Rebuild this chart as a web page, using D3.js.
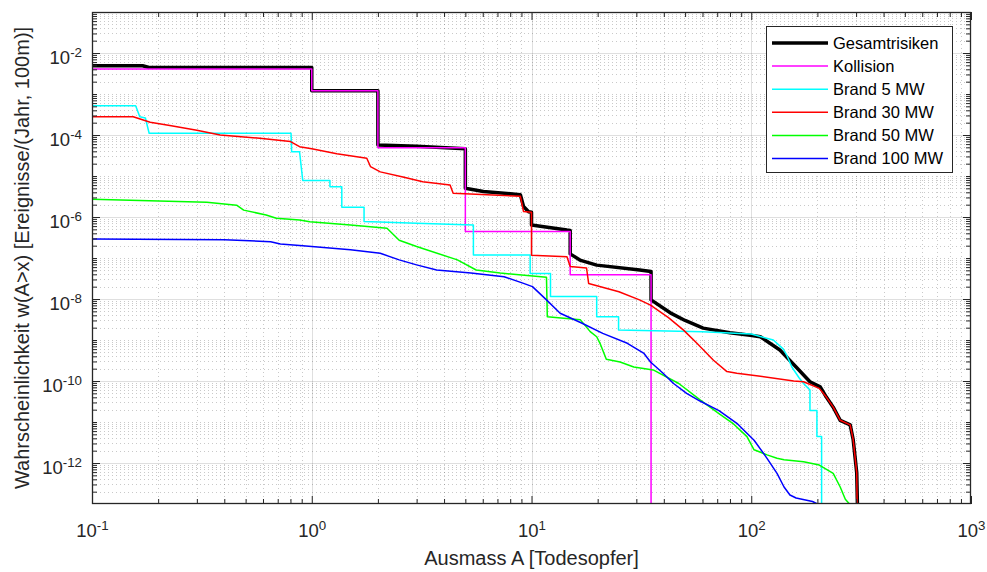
<!DOCTYPE html>
<html>
<head>
<meta charset="utf-8">
<script src="https://cdn.jsdelivr.net/npm/d3@7"></script>
<style>
  body { margin: 0; background: #fff; }
  svg { display: block; font-family: "Liberation Sans", Arial, sans-serif; }
</style>
</head>
<body>
<svg id="chart" width="987" height="572"></svg>
<script>
// exceedance curves: [A, w(A>x)]
var gesamt = [[0.1,4.9e-3],[0.17,4.9e-3],[0.18,4.5e-3],[1,4.4e-3],[1,1.2e-3],[2,1.2e-3],[2,5.7e-5],[3,5.3e-5],[5,4.6e-5],[5,5.0e-6],[6.04,4.2e-6],[8.9,3.5e-6],[9.2,1.8e-6],[9.7,1.34e-6],[10,1.3e-6],[10,6.4e-7],[14.5,4.8e-7],[15,4.7e-7],[15,1.26e-7],[16.6,8.9e-8],[19.8,6.7e-8],[31.1,5.1e-8],[35,4.7e-8],[35,9.5e-9],[42.8,4.6e-9],[50,3e-9],[60.4,1.95e-9],[80,1.5e-9],[98.9,1.3e-9],[110,1.2e-9],[135,5.7e-10],[160,2.2e-10],[185,9.6e-11],[206,7.2e-11],[220,4e-11],[236,2.3e-11],[254,1.1e-11],[282,8.5e-12],[291,3.7e-12],[302,5.8e-13],[307,1e-14]];
var kollision = [[0.1,4.1e-3],[1,4.1e-3],[1,1.2e-3],[2,1.2e-3],[2,4.9e-5],[5,4.9e-5],[5,4.4e-7],[15,4.4e-7],[15,3.9e-8],[35,3.9e-8],[35,1e-14]];
var brand5 = [[0.1,5.2e-4],[0.158,5.2e-4],[0.165,2.8e-4],[0.175,2.6e-4],[0.182,1.1e-4],[0.805,1.1e-4],[0.81,3.9e-5],[0.88,3.9e-5],[0.91,7.8e-6],[1.21,7.8e-6],[1.21,5.5e-6],[1.37,5.5e-6],[1.37,1.74e-6],[1.73,1.74e-6],[1.73,7.8e-7],[3,7.0e-7],[5.44,6.4e-7],[5.44,1.18e-7],[9.86,1.18e-7],[9.86,4.2e-8],[12.2,4.2e-8],[12.2,1.15e-8],[19.8,1.15e-8],[19.8,3.7e-9],[24.9,3.7e-9],[24.9,1.75e-9],[60,1.6e-9],[100,1.4e-9],[126,1e-9],[140,6e-10],[145,4.3e-10],[153,2.2e-10],[165,1.2e-10],[173,8.7e-11],[185,6e-11],[185,1.9e-11],[199,1.9e-11],[199,4.4e-12],[209,4.4e-12],[209,1e-14]];
var brand30 = [[0.1,2.8e-4],[0.154,2.8e-4],[0.184,2.04e-4],[0.226,1.7e-4],[0.30,1.3e-4],[0.383,1.0e-4],[0.58,8.3e-5],[0.80,6.9e-5],[0.88,5.2e-5],[1.0,4.6e-5],[1.3,3.5e-5],[1.78,2.7e-5],[1.85,1.7e-5],[2.05,1.26e-5],[2.6,9.5e-6],[3.2,7.2e-6],[4.26,6e-6],[4.4,3.8e-6],[8.9,3.2e-6],[9.2,1.36e-6],[10,1.3e-6],[10,1.17e-7],[14.5,1.07e-7],[15,6.2e-8],[17.8,5.7e-8],[18.2,2.4e-8],[25,1.5e-8],[31,9.5e-9],[34.8,7.1e-9],[42,3.5e-9],[49.2,1.74e-9],[56.6,8.3e-10],[67.3,3.2e-10],[77.5,1.7e-10],[86,1.55e-10],[110,1.3e-10],[156,1e-10],[173,9.6e-11],[204,6.6e-11],[220,4e-11],[236,2.3e-11],[254,1.1e-11],[282,8.5e-12],[291,3.7e-12],[302,5.8e-13],[305,1e-14]];
var brand50 = [[0.1,2.7e-6],[0.333,2.3e-6],[0.455,1.94e-6],[0.49,1.47e-6],[0.62,1.12e-6],[0.69,9.3e-7],[0.88,8.5e-7],[0.98,7.7e-7],[1.5,6.4e-7],[2.2,5.3e-7],[2.5,2.7e-7],[3.0,1.9e-7],[4.6,9e-8],[5.6,5.1e-8],[7.2,4.3e-8],[11.7,3.4e-8],[11.8,3.7e-9],[16.7,3.1e-9],[18.5,1.6e-9],[19.8,1.2e-9],[20.5,8.3e-10],[21.9,3.4e-10],[25.3,2.9e-10],[29.2,2.2e-10],[35.8,1.86e-10],[46.8,8.7e-11],[58.7,3.4e-11],[71.3,1.6e-11],[82.4,9.3e-12],[95.6,4.4e-12],[103,2.1e-12],[118,1.58e-12],[131,1.3e-12],[141,1.2e-12],[173,1.07e-12],[204,8.9e-13],[236,5.6e-13],[254,2.6e-13],[268,1.3e-13],[280,1e-13],[295,1e-14]];
var brand100 = [[0.1,2.9e-7],[0.40,2.8e-7],[0.65,2.5e-7],[0.72,2.2e-7],[0.91,2e-7],[1.5,1.6e-7],[2.05,1.3e-7],[2.5,9e-8],[3.0,6.8e-8],[3.7,5.1e-8],[5.3,4.3e-8],[7.5,3.5e-8],[9.2,2.4e-8],[10.1,2e-8],[11.7,9.5e-9],[13.5,4.5e-9],[16.9,2.6e-9],[21.1,1.45e-9],[27.3,8.3e-10],[32.5,4.7e-10],[34.8,2.9e-10],[39.7,1.55e-10],[44.3,8.7e-11],[50.8,5e-11],[58.7,3.2e-11],[71.3,1.9e-11],[86,9.3e-12],[95.6,5.3e-12],[103,3.6e-12],[118,1.3e-12],[131,5.6e-13],[141,2.6e-13],[150,1.66e-13],[160,1.4e-13],[190,1.15e-13],[200,1e-13],[202,1e-14]];

var series_names = ["Gesamtrisiken", "Kollision", "Brand 5 MW", "Brand 30 MW", "Brand 50 MW", "Brand 100 MW"];
var series_data = [gesamt, kollision, brand5, brand30, brand50, brand100];
var series_color = ["#000000", "#ff00ff", "#00ffff", "#ff0000", "#00ff00", "#0000ff"];
var series_width = [3.5, 1.5, 1.5, 1.5, 1.5, 1.5];

var x_major = [0.1, 1, 10, 100, 1000];
var y_major = [1e-12, 1e-10, 1e-8, 1e-6, 1e-4, 1e-2];

var margin = {top: 12, right: 16, bottom: 68, left: 92};
var width = 987, height = 572;
var ink = "#262626";

var svg = d3.select("#chart");

var x = d3.scaleLog().domain([0.1, 1000]).range([margin.left, width - margin.right]);
var y = d3.scaleLog().domain([1e-13, 1e-1]).range([height - margin.bottom, margin.top]);

var x0 = x.range()[0], x1 = x.range()[1];
var y0 = y.range()[0], y1 = y.range()[1];

// minor positions: 2..9 in each decade (and the odd decades on y)
var x_minor = [];
for (var e = -1; e < 3; ++e) {
    for (var m = 2; m <= 9; ++m) x_minor.push(m * Math.pow(10, e));
}
var y_minor = [];
for (var e = -13; e < -1; ++e) {
    for (var m = 1; m <= 9; ++m) {
        var v = m * Math.pow(10, e);
        if (m == 1 && (e % 2 == 0)) continue;
        if (m == 1 && e == -13) continue;
        y_minor.push(v);
    }
}

svg.append("rect").attr("x", x0).attr("y", y1).attr("width", x1 - x0).attr("height", y0 - y1).attr("fill", "#fff");

// grid
var grid = svg.append("g");
grid.selectAll(".xmin").data(x_minor).enter().append("line")
    .attr("x1", function(d) { return Math.round(x(d)) + 0.5; })
    .attr("x2", function(d) { return Math.round(x(d)) + 0.5; })
    .attr("y1", y1).attr("y2", y0)
    .attr("stroke", ink).attr("stroke-opacity", 0.25).attr("stroke-dasharray", "1,3");
grid.selectAll(".ymin").data(y_minor).enter().append("line")
    .attr("y1", function(d) { return Math.round(y(d)) + 0.5; })
    .attr("y2", function(d) { return Math.round(y(d)) + 0.5; })
    .attr("x1", x0).attr("x2", x1)
    .attr("stroke", ink).attr("stroke-opacity", 0.25).attr("stroke-dasharray", "1,3");
grid.selectAll(".xmaj").data(x_major.slice(1, -1)).enter().append("line")
    .attr("x1", function(d) { return Math.round(x(d)) + 0.5; })
    .attr("x2", function(d) { return Math.round(x(d)) + 0.5; })
    .attr("y1", y1).attr("y2", y0)
    .attr("stroke", ink).attr("stroke-opacity", 0.15);
grid.selectAll(".ymaj").data(y_major).enter().append("line")
    .attr("y1", function(d) { return Math.round(y(d)) + 0.5; })
    .attr("y2", function(d) { return Math.round(y(d)) + 0.5; })
    .attr("x1", x0).attr("x2", x1)
    .attr("stroke", ink).attr("stroke-opacity", 0.15);

// curves
svg.append("clipPath").attr("id", "plotclip")
    .append("rect").attr("x", x0).attr("y", y1).attr("width", x1 - x0).attr("height", y0 - y1);

var line = d3.line()
    .x(function(d) { return x(d[0]); })
    .y(function(d) { return y(d[1]); });

svg.append("g").attr("clip-path", "url(#plotclip)")
    .selectAll("path").data(series_data).enter().append("path")
    .attr("d", line)
    .attr("fill", "none")
    .attr("stroke", function(d, i) { return series_color[i]; })
    .attr("stroke-width", function(d, i) { return series_width[i]; })
    .attr("stroke-linejoin", "round");

// axes: ticks point inward on all four sides
var sup_label = function(sel) {
    sel.each(function(d) {
        var t = d3.select(this);
        t.text(null);
        t.append("tspan").text("10");
        t.append("tspan").attr("dy", "-0.55em").attr("font-size", "0.72em")
            .text(String(Math.round(Math.log10(d))).replace("\u2212", "-"));
    });
};

var ax_style = function(g) {
    g.selectAll("line").attr("stroke", ink);
    g.select(".domain").remove();
    g.selectAll("text").attr("fill", ink).attr("font-size", 18.5).attr("font-family", null);
};

svg.append("g").attr("transform", "translate(0," + y0 + ")")
    .call(d3.axisBottom(x).tickValues(x_major).tickSize(-8).tickPadding(20).tickFormat(""))
    .call(ax_style)
    .call(function(g) { g.selectAll("text").call(sup_label); });
svg.append("g").attr("transform", "translate(0," + y0 + ")")
    .call(d3.axisBottom(x).tickValues(x_minor).tickSize(-5).tickFormat(""))
    .call(ax_style);
svg.append("g").attr("transform", "translate(0," + y1 + ")")
    .call(d3.axisTop(x).tickValues(x_major).tickSize(-8).tickFormat(""))
    .call(ax_style);
svg.append("g").attr("transform", "translate(0," + y1 + ")")
    .call(d3.axisTop(x).tickValues(x_minor).tickSize(-5).tickFormat(""))
    .call(ax_style);

svg.append("g").attr("transform", "translate(" + x0 + ",0)")
    .call(d3.axisLeft(y).tickValues(y_major).tickSize(-8).tickPadding(10).tickFormat(""))
    .call(ax_style)
    .call(function(g) { g.selectAll("text").attr("dy", "0.58em").call(sup_label); });
svg.append("g").attr("transform", "translate(" + x0 + ",0)")
    .call(d3.axisLeft(y).tickValues(y_minor).tickSize(-5).tickFormat(""))
    .call(ax_style);
svg.append("g").attr("transform", "translate(" + x1 + ",0)")
    .call(d3.axisRight(y).tickValues(y_major).tickSize(-8).tickFormat(""))
    .call(ax_style);
svg.append("g").attr("transform", "translate(" + x1 + ",0)")
    .call(d3.axisRight(y).tickValues(y_minor).tickSize(-5).tickFormat(""))
    .call(ax_style);

svg.append("rect").attr("x", x0 + 0.5).attr("y", y1 + 0.5)
    .attr("width", x1 - x0 - 1).attr("height", y0 - y1 - 1)
    .attr("fill", "none").attr("stroke", ink).attr("stroke-width", 1.3);

// axis titles
svg.append("text")
    .attr("x", (x0 + x1) / 2).attr("y", 565)
    .attr("text-anchor", "middle").attr("font-size", 20).attr("fill", ink)
    .text("Ausmass A [Todesopfer]");
svg.append("text")
    .attr("transform", "translate(29," + ((y0 + y1) / 2) + ") rotate(-90)")
    .attr("text-anchor", "middle").attr("font-size", 20).attr("fill", ink)
    .text("Wahrscheinlichkeit w(A>x) [Ereignisse/(Jahr, 100m)]");

// legend
var leg = svg.append("g");
leg.append("rect").attr("x", 766.5).attr("y", 26.5).attr("width", 186).attr("height", 146)
    .attr("fill", "#fff").attr("stroke", ink).attr("stroke-width", 1);
var rows = leg.selectAll(".row").data(series_names).enter().append("g")
    .attr("transform", function(d, i) { return "translate(0," + (43 + i * 23.1) + ")"; });
rows.append("line").attr("x1", 772).attr("x2", 828).attr("y1", 0).attr("y2", 0)
    .attr("stroke", function(d, i) { return series_color[i]; })
    .attr("stroke-width", function(d, i) { return series_width[i]; });
rows.append("text").attr("x", 833).attr("y", 0).attr("dy", "0.35em")
    .attr("font-size", 16.5).attr("fill", "#000")
    .text(function(d) { return d; });
</script>
</body>
</html>
